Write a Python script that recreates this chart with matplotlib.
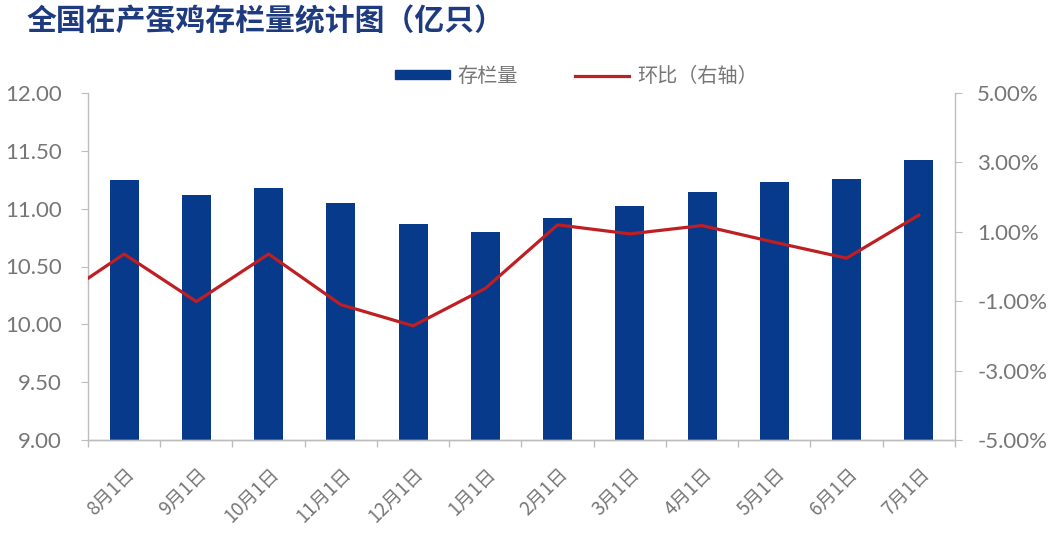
import numpy as np
import matplotlib
matplotlib.use("Agg")
from matplotlib import pyplot as plt
from matplotlib.patches import Patch
from matplotlib.lines import Line2D

plt.rcParams['font.family'] = ['Lato', 'Noto Sans CJK SC', 'DejaVu Sans']

# podaci: stanje (亿只) i promena mesec na mesec (%)
meseci = ['8月1日', '9月1日', '10月1日', '11月1日', '12月1日', '1月1日',
          '2月1日', '3月1日', '4月1日', '5月1日', '6月1日', '7月1日']
stanje = [11.25, 11.12, 11.18, 11.05, 10.87, 10.80,
          10.92, 11.02, 11.14, 11.23, 11.26, 11.42]
# prvi element je prethodni mesec (van vidljivog dela ose)
promena = [-1.04, 0.36, -1.01, 0.36, -1.10, -1.71, -0.63,
           1.20, 0.94, 1.18, 0.70, 0.24, 1.48]

plava = '#073a8a'
crvena = '#bf1e22'
siva = '#767676'
linija_ose = '#bdbdbd'

fig = plt.figure(figsize=(10.54, 5.33), dpi=100)
ax = fig.add_axes([0.0835, 0.1745, 0.8225, 0.651])
ax2 = ax.twinx()

x = np.arange(len(meseci))
ax.bar(x, stanje, width=0.4, color=plava, zorder=2)
xl = np.arange(-1, len(meseci))
ax2.plot(xl, promena, color=crvena, lw=2.3, zorder=3)

ax.set_xlim(-0.5, len(meseci) - 0.5)
ax.set_ylim(9, 12)
ax.set_yticks(np.arange(9, 12.01, 0.5))
ax.set_yticklabels(['%.2f' % v for v in np.arange(9, 12.01, 0.5)])
ax2.set_ylim(-5, 5)
ax2.set_yticks(np.arange(-5, 5.01, 2))
ax2.set_yticklabels(['%.2f%%' % v for v in np.arange(-5, 5.01, 2)])

# podela kategorija na x osi
ax.set_xticks(x)
ax.set_xticklabels(meseci, rotation=45, ha='right', rotation_mode='anchor',
                   family=['Noto Sans CJK SC'], fontsize=13.5, color=siva)
ax.set_xticks(np.arange(-0.5, len(meseci), 1), minor=True)
ax.tick_params(axis='x', which='major', length=0, pad=17)
ax.tick_params(axis='x', which='minor', length=5, color=linija_ose, width=1)
ax.tick_params(axis='y', length=5, color=linija_ose, labelsize=16,
               labelcolor=siva, pad=14)
ax2.tick_params(axis='y', length=5, color=linija_ose, labelsize=16,
                labelcolor=siva, pad=11)

for a in (ax, ax2):
    a.spines['top'].set_visible(False)
    for s in ('left', 'right', 'bottom'):
        a.spines[s].set_color(linija_ose)
        a.spines[s].set_linewidth(1)
ax2.spines['left'].set_visible(False)
ax.spines['right'].set_visible(False)

ruke = [Patch(facecolor=plava, edgecolor=plava),
        Line2D([0], [0], color=crvena, lw=2.3)]
leg = fig.legend(ruke, ['存栏量', '环比（右轴）'], loc='center',
                 bbox_to_anchor=(0.547, 0.857), ncol=2, frameon=False,
                 handlelength=2.7, handleheight=0.35, handletextpad=0.4,
                 columnspacing=2.8,
                 prop={'family': ['Noto Sans CJK SC'], 'size': 14.5})
for t in leg.get_texts():
    t.set_color(siva)

fig.text(0.025, 0.96, '全国在产蛋鸡存栏量统计图（亿只）', ha='left', va='center',
         fontsize=21.5, fontweight='bold', color='#1f3b80',
         family=['Noto Sans CJK SC'])

fig.savefig('out.png', dpi=100)
